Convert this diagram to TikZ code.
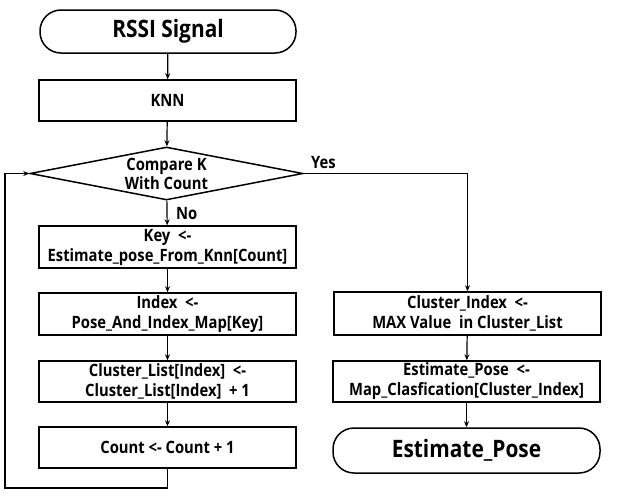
\documentclass[tikz,border=0pt]{standalone}
\usepackage{fontspec}
\setmainfont{Open Sans}[FakeStretch=0.87,BoldFont={Open Sans Bold}]
\usetikzlibrary{shapes.geometric,arrows.meta}
\begin{document}
\begin{tikzpicture}[x=1pt,y=-1pt,
  box/.style={draw,line width=1.5pt,minimum width=257pt,minimum height=41pt,inner sep=0pt,align=center,font=\fontsize{17}{20}\selectfont\bfseries},
  term/.style={draw,line width=1.5pt,rounded corners=21pt,minimum height=43pt,inner sep=0pt,font=\fontsize{24}{28}\selectfont\bfseries},
  dec/.style={draw,diamond,line width=1.5pt,minimum width=273pt,minimum height=53pt,inner sep=0pt},
  dectext/.style={align=center,font=\fontsize{17}{19}\selectfont\bfseries,inner sep=0pt},
  lbl/.style={font=\fontsize{17}{20}\selectfont\bfseries,inner sep=0pt,anchor=west},
  arr/.style={line width=1.2pt,-{Stealth[length=6pt,width=5pt]}}]
\useasboundingbox (0,0) rectangle (620,496);
\node[term,minimum width=256pt] (rssi) at (168,31.5) {RSSI Signal};
\node[box] (knn) at (167.5,100.5) {KNN};
\node[dec,label={[dectext]center:Compare K\\With Count}] (cmp) at (166.5,173.5) {};
\node[box,minimum height=42pt] (key) at (167.5,247) {Key \ <-\\Estimate\_pose\_From\_Knn[Count]};
\node[box,minimum height=42pt] (idx) at (167.5,314) {Index \ <-\\Pose\_And\_Index\_Map[Key]};
\node[box] (cl) at (167.5,381.5) {Cluster\_List[Index] \ <-\\Cluster\_List[Index] \ + 1};
\node[box] (cnt) at (167.5,447.5) {Count <- Count + 1};
\node[box,minimum width=267pt,minimum height=43pt] (ci) at (467.5,313.5) {Cluster\_Index \ <-\\MAX Value \ in Cluster\_List};
\node[box,minimum width=267pt] (ep) at (466.5,381.5) {Estimate\_Pose \ <-\\Map\_Clasfication[Cluster\_Index]};
\node[term,minimum width=267pt,minimum height=45pt] (epo) at (466.5,450.5) {Estimate\_Pose};
\coordinate (lb) at (5,488);
\draw[arr] (rssi) -- (knn);
\draw[arr] (knn) -- (cmp);
\draw[arr] (cmp) -- (key);
\draw[arr] (key) -- (idx);
\draw[arr] (idx) -- (cl);
\draw[arr] (cl) -- (cnt);
\draw[arr] (cnt.south) |- (lb) |- (cmp.west);
\draw[arr] (cmp.east) -| (ci.north);
\draw[arr] (ci) -- (ep);
\draw[arr] (ep) -- (epo);
\node[lbl] (no) at (176,214) {No};
\node[lbl] (yes) at (311,163) {Yes};
\end{tikzpicture}
\end{document}
